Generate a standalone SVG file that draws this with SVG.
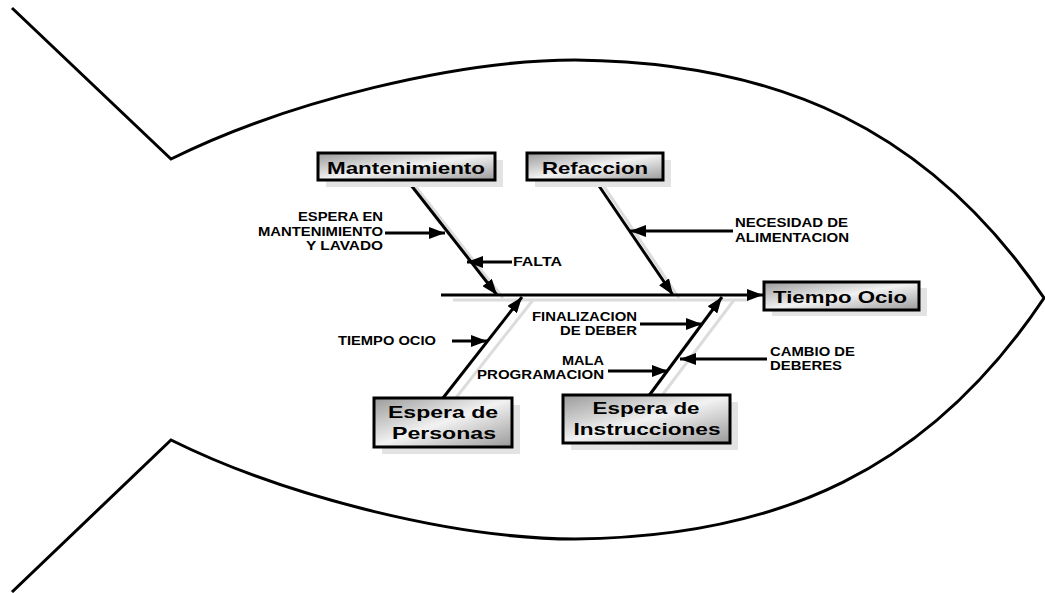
<svg xmlns="http://www.w3.org/2000/svg" width="1045" height="593" viewBox="0 0 1045 593">
<style>
.fish{fill:none;stroke:#000;stroke-width:3;stroke-linejoin:miter}
.bone{stroke:#000;stroke-width:3;fill:none}
.shad{stroke:#dcdcdc;stroke-width:3;fill:none}
.lab{stroke:#000;stroke-width:3;fill:none}
.box{fill:url(#g);stroke:#000;stroke-width:3}
.bshadow{fill:#e3e3e3}
.bt{font-family:"Liberation Sans",Arial,sans-serif;font-weight:bold;font-size:17px;fill:#000}
.st{font-family:"Liberation Sans",Arial,sans-serif;font-weight:bold;font-size:12px;fill:#000}
</style>
<defs>
<linearGradient id="g" x1="0" y1="0" x2="1" y2="1">
<stop offset="0" stop-color="#9a9a9a"/>
<stop offset="0.5" stop-color="#f2f2f2"/>
<stop offset="1" stop-color="#9a9a9a"/>
</linearGradient>
<marker id="ah" markerUnits="userSpaceOnUse" markerWidth="16" markerHeight="12" refX="16" refY="6" orient="auto">
<path d="M0,0 L16,6 L0,12 z" fill="#000"/>
</marker>
</defs>
<rect width="1045" height="593" fill="#fff"/>
<path class="fish" d="M12,8 L171,159 C290,100 460,60 575,60 C780,62 930,130 1044,298 C930,469 780,537 575,539 C460,539 290,499 171,440 L12,592"/>

<g id="connectors">
<line class="shad" x1="453" y1="300" x2="748" y2="300"/>
<line class="shad" x1="412" y1="182" x2="503" y2="298"/>
<line class="shad" x1="601" y1="182" x2="679" y2="298"/>
<line class="shad" x1="455" y1="399" x2="533" y2="300"/>
<line class="shad" x1="660" y1="398" x2="734" y2="300"/>
<line class="bone" x1="441" y1="295" x2="763" y2="295" marker-end="url(#ah)"/>
<line class="bone" x1="407" y1="180" x2="497" y2="295" marker-end="url(#ah)"/>
<line class="bone" x1="595" y1="180" x2="673" y2="295" marker-end="url(#ah)"/>
<line class="bone" x1="443" y1="398" x2="522" y2="297" marker-end="url(#ah)"/>
<line class="bone" x1="648" y1="397" x2="722" y2="297" marker-end="url(#ah)"/>
<line class="lab" x1="385" y1="233" x2="445" y2="233" marker-end="url(#ah)"/>
<line class="lab" x1="512" y1="262" x2="467" y2="262" marker-end="url(#ah)"/>
<line class="lab" x1="733" y1="231" x2="630" y2="231" marker-end="url(#ah)"/>
<line class="lab" x1="640" y1="324" x2="702" y2="324" marker-end="url(#ah)"/>
<line class="lab" x1="452" y1="341" x2="487" y2="341" marker-end="url(#ah)"/>
<line class="lab" x1="608" y1="371" x2="668" y2="371" marker-end="url(#ah)"/>
<line class="lab" x1="767" y1="359" x2="680" y2="359" marker-end="url(#ah)"/>
</g>

<g id="mantenimiento">
<rect class="bshadow" x="326" y="160" width="177" height="27"/>
<rect class="box" x="318" y="153" width="177" height="27"/>
<text class="bt" x="406" y="174" text-anchor="middle" textLength="158" lengthAdjust="spacingAndGlyphs">Mantenimiento</text>
</g>
<g id="refaccion">
<rect class="bshadow" x="535" y="160" width="136" height="27"/>
<rect class="box" x="527" y="153" width="136" height="27"/>
<text class="bt" x="595" y="174" text-anchor="middle" textLength="106" lengthAdjust="spacingAndGlyphs">Refaccion</text>
</g>
<g id="tiempo-ocio">
<rect class="bshadow" x="772" y="288" width="155" height="28"/>
<rect class="box" x="764" y="282" width="155" height="28"/>
<text class="bt" x="840" y="303" text-anchor="middle" textLength="134" lengthAdjust="spacingAndGlyphs">Tiempo Ocio</text>
</g>
<g id="espera-personas">
<rect class="bshadow" x="382" y="405" width="138" height="49"/>
<rect class="box" x="374" y="398" width="138" height="49"/>
<text class="bt" x="443" y="418" text-anchor="middle" textLength="110" lengthAdjust="spacingAndGlyphs">Espera de</text>
<text class="bt" x="444" y="439" text-anchor="middle" textLength="104" lengthAdjust="spacingAndGlyphs">Personas</text>
</g>
<g id="espera-instrucciones">
<rect class="bshadow" x="571" y="402" width="167" height="48"/>
<rect class="box" x="563" y="395" width="167" height="48"/>
<text class="bt" x="646" y="414" text-anchor="middle" textLength="107" lengthAdjust="spacingAndGlyphs">Espera de</text>
<text class="bt" x="647" y="435" text-anchor="middle" textLength="147" lengthAdjust="spacingAndGlyphs">Instrucciones</text>
</g>

<g id="labels">
<text class="st" x="383" y="221" text-anchor="end" textLength="85" lengthAdjust="spacingAndGlyphs">ESPERA EN</text>
<text class="st" x="383" y="236" text-anchor="end" textLength="125" lengthAdjust="spacingAndGlyphs">MANTENIMIENTO</text>
<text class="st" x="383" y="250" text-anchor="end" textLength="77" lengthAdjust="spacingAndGlyphs">Y LAVADO</text>
<text class="st" x="513" y="266" textLength="49" lengthAdjust="spacingAndGlyphs">FALTA</text>
<text class="st" x="735" y="227" textLength="113" lengthAdjust="spacingAndGlyphs">NECESIDAD DE</text>
<text class="st" x="735" y="242" textLength="114" lengthAdjust="spacingAndGlyphs">ALIMENTACION</text>
<text class="st" x="637" y="321" text-anchor="end" textLength="105" lengthAdjust="spacingAndGlyphs">FINALIZACION</text>
<text class="st" x="637" y="335" text-anchor="end" textLength="77" lengthAdjust="spacingAndGlyphs">DE DEBER</text>
<text class="st" x="338" y="345" textLength="98" lengthAdjust="spacingAndGlyphs">TIEMPO OCIO</text>
<text class="st" x="604" y="365" text-anchor="end" textLength="42" lengthAdjust="spacingAndGlyphs">MALA</text>
<text class="st" x="604" y="379" text-anchor="end" textLength="127" lengthAdjust="spacingAndGlyphs">PROGRAMACION</text>
<text class="st" x="770" y="356" textLength="85" lengthAdjust="spacingAndGlyphs">CAMBIO DE</text>
<text class="st" x="770" y="370" textLength="72" lengthAdjust="spacingAndGlyphs">DEBERES</text>
</g>
</svg>
